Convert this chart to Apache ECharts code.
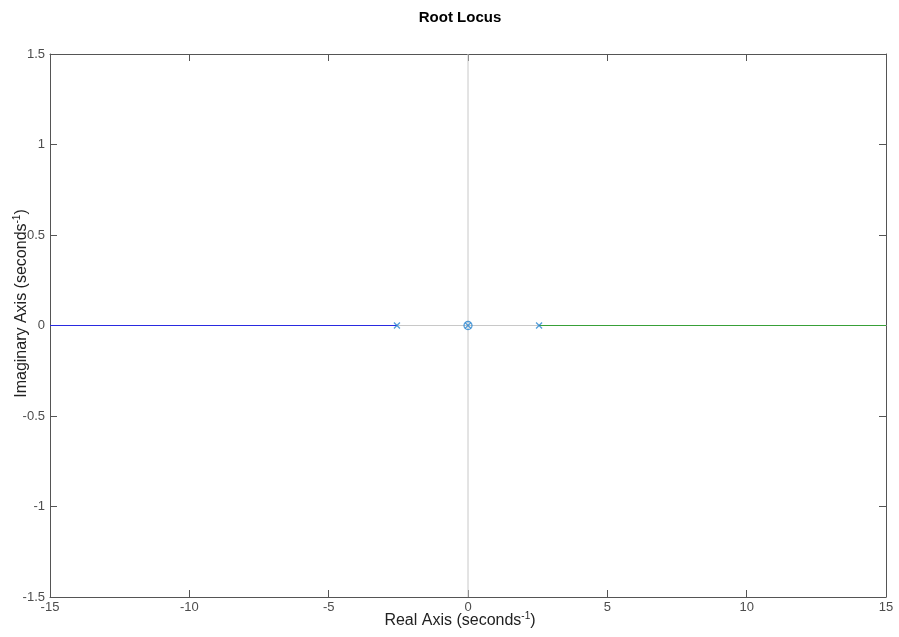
<!DOCTYPE html>
<html><head><meta charset="utf-8">
<script src="https://cdn.jsdelivr.net/npm/echarts@6/dist/echarts.min.js"></script>
<style>html,body{margin:0;padding:0;background:#fff}#c{width:899px;height:637px}</style>
</head><body><div id="c"></div>
<script>
const xTicks = [-15, -10, -5, 0, 5, 10, 15];
const yTicks = [-1.5, -1, -0.5, 0, 0.5, 1, 1.5];
const locusBranch1 = [[-15, 0], [-2.55, 0]];
const locusBranch2 = [[2.55, 0], [15, 0]];
const poles = [[-2.55, 0], [0, 0], [2.55, 0]];
const zeros = [[0, 0]];
const refH = [[-15, 0], [15, 0]];
const refV = [[0, -1.5], [0, 1.5]];

const chart = echarts.init(document.getElementById('c'));
const font = 'Liberation Sans, Arial, sans-serif';
function axisBase(extra) {
  return Object.assign({
    type: 'value',
    axisLine: {show: true, onZero: false, lineStyle: {color: '#555', width: 1}},
    axisTick: {show: true, inside: true, length: 7, lineStyle: {color: '#555'}},
    splitLine: {show: false}
  }, extra);
}
const crossPath = 'path://M0,0L10,10M10,0L0,10';
function richName() {
  return {
    a: {fontFamily: font, fontSize: 16, color: '#222'},
    s: {fontFamily: font, fontSize: 10, color: '#222', verticalAlign: 'top', padding: [0, 0, 9, 0]}
  };
}
chart.setOption({
  animation: false,
  title: {text: 'Root Locus', left: 455, textAlign: 'center', top: 5,
    textStyle: {fontFamily: font, fontSize: 15, fontWeight: 'bold', color: '#000'}},
  grid: {left: 50, right: 13, top: 54, bottom: 40, outerBoundsMode: 'none'},
  xAxis: [
    axisBase({min: -15, max: 15, interval: 5, position: 'bottom',
      axisLabel: {color: '#4d4d4d', fontFamily: font, fontSize: 13, margin: 4},
      name: '{a|Real Axis (seconds}{s|-1}{a|)}', nameLocation: 'middle', nameGap: 14, nameMoveOverlap: false,
      nameTextStyle: {padding: [0, 16, 0, 0], rich: richName()}}),
    axisBase({min: -15, max: 15, interval: 5, position: 'top', axisLabel: {show: false}})
  ],
  yAxis: [
    axisBase({min: -1.5, max: 1.5, interval: 0.5, position: 'left',
      axisLabel: {color: '#4d4d4d', fontFamily: font, fontSize: 13, margin: 5},
      name: '{a|Imaginary Axis (seconds}{s|-1}{a|)}', nameLocation: 'middle', nameGap: 19, nameRotate: 90, nameMoveOverlap: false,
      nameTextStyle: {padding: [0, 0, 0, 44], rich: richName()}}),
    axisBase({min: -1.5, max: 1.5, interval: 0.5, position: 'right', axisLabel: {show: false}})
  ],
  series: [
    {type: 'line', data: refH, symbol: 'none', lineStyle: {color: '#c8c8c8', width: 1}, z: 5},
    {type: 'line', data: refV, symbol: 'none', lineStyle: {color: '#c8c8c8', width: 1}, z: 5},
    {type: 'line', data: locusBranch1, symbol: 'none', lineStyle: {color: '#2a2ae0', width: 1}, z: 6},
    {type: 'line', data: locusBranch2, symbol: 'none', lineStyle: {color: '#38a038', width: 1}, z: 6},
    {type: 'scatter', data: poles, symbol: crossPath, symbolSize: 6, itemStyle: {color: 'none', borderColor: '#2b86d0', borderWidth: 1.3}, z: 7},
    {type: 'scatter', data: zeros, symbol: 'circle', symbolSize: 8, itemStyle: {color: 'none', borderColor: '#2b86d0', borderWidth: 1.3}, z: 7}
  ]
});
</script></body></html>
